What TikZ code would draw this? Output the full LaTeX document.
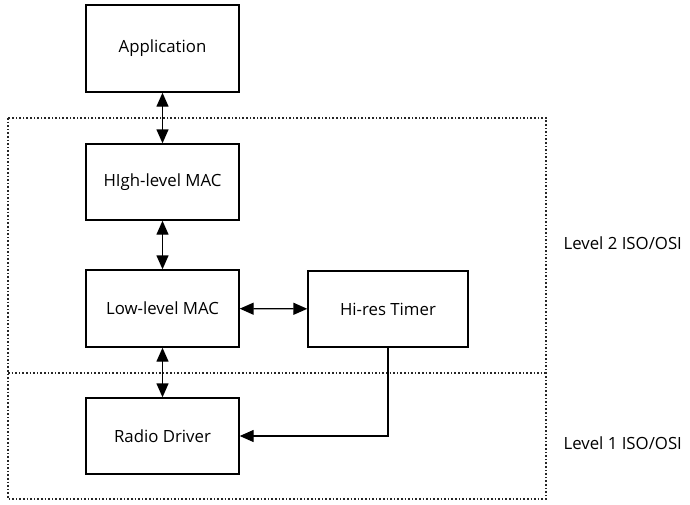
\documentclass[tikz,border=0pt]{standalone}
\usepackage{fontspec}
\setmainfont{Open Sans}
\usetikzlibrary{positioning}
\usetikzlibrary{arrows.meta}
\tikzset {
  x=1pt, y=-1pt,
  % layer boxes
  block/.style = {draw, line width=1.4pt, minimum width=153pt, minimum height=76pt, font=\fontsize{16.8}{18}\selectfont},
  % links between layers
  link/.style = {line width=1.4pt, {Triangle[length=14pt,width=12pt]}-{Triangle[length=14pt,width=12pt]}},
  onelink/.style = {line width=1.4pt, -{Triangle[length=14pt,width=12pt]}},
  % ISO/OSI level frames
  level/.style = {dotted, line width=1.6pt, gray!30!black},
  levellabel/.style = {anchor=west, font=\fontsize{16.8}{18}\selectfont},
}
\begin{document}
\begin{tikzpicture}
        \useasboundingbox (0,0) rectangle (690,504);

        \node[block, minimum height=87pt] (app) at (162.5, 48.5) {Application};
        \node[block] (himac) at (162.5, 182) {HIgh-level MAC};
        \node[block, minimum height=77pt] (lomac) at (162.5, 308.5) {Low-level MAC};
        \node[block, minimum width=160pt] (timer) at (388, 309) {Hi-res Timer};
        \node[block] (radio) at (162.5, 436) {Radio Driver};

        \node[levellabel] (lvl2) at (560, 243) {Level 2 ISO/OSI};
        \node[levellabel] (lvl1) at (560, 443) {Level 1 ISO/OSI};

        \draw[level] (8, 118) rectangle (546, 499);
        \draw[level] (8, 373) -- (546, 373);

        \draw[link] (app) -- (himac);
        \draw[link] (himac) -- (lomac);
        \draw[link] (lomac) -- (timer);
        \draw[link] (lomac) -- (radio);
        \draw[onelink] (timer.south) |- (radio.east);

\end{tikzpicture}
\end{document}
